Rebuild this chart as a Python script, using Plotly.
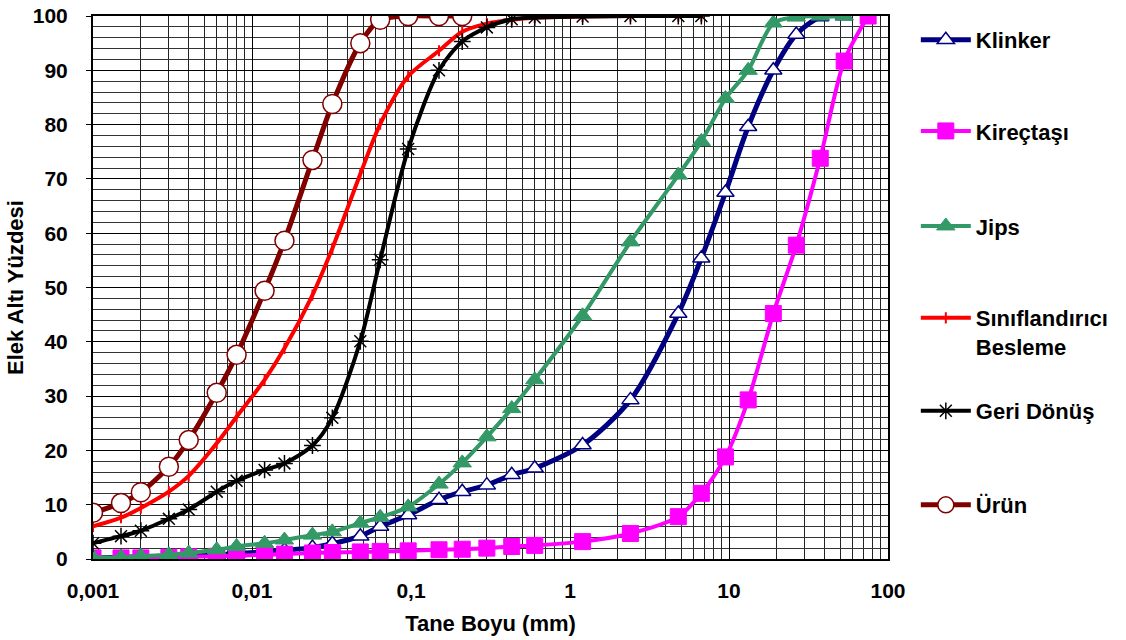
import plotly.graph_objects as go

# ---- Data (particle size in mm, cumulative % passing) ----
size_fine = [0.001, 0.0015, 0.002, 0.003, 0.004, 0.006, 0.008, 0.012, 0.016,
             0.024, 0.032, 0.048, 0.064, 0.096]
size_sieve = [0.15, 0.21, 0.3, 0.43, 0.6, 1.2, 2.4, 4.8, 6.7, 9.5, 13.2, 19,
              26.5, 37.5, 53, 75]

klinker_x = size_fine + size_sieve[:15]
klinker_y = [0.2, 0.3, 0.4, 0.5, 0.6, 0.8, 1.0, 1.3, 1.6, 2.1, 2.8, 4.2, 6.0, 8.1,
             10.9, 12.4, 13.6, 15.5, 16.7, 21.0, 29.3, 45.2, 55.4, 67.5, 79.6, 90.0,
             96.6, 99.8, 100]

kirectasi_x = size_fine + size_sieve
kirectasi_y = [0.2, 0.2, 0.2, 0.3, 0.4, 0.5, 0.6, 0.8, 0.9, 1.1, 1.2, 1.3, 1.4, 1.5,
               1.7, 1.8, 2.0, 2.3, 2.5, 3.2, 4.7, 7.8, 12.1, 18.8, 29.3, 45.2,
               57.8, 73.8, 91.7, 100]

jips_x = size_fine + size_sieve[:15]
jips_y = [0.3, 0.3, 0.5, 0.8, 1.1, 1.7, 2.3, 2.9, 3.5, 4.4, 5.0, 6.6, 7.7, 9.6,
          13.8, 17.7, 22.5, 27.7, 33.0, 44.8, 58.4, 70.7, 76.9, 84.8, 90.0, 98.7,
          99.8, 100, 100]

besleme_x = size_fine + size_sieve[:9]
besleme_y = [6.0, 7.6, 9.4, 12.4, 15.3, 21.3, 26.2, 33.0, 38.8, 48.6, 57.2, 70.9,
             80.1, 88.9, 93.6, 97.1, 98.6, 99.3, 99.7, 99.9, 100, 100, 100]

geri_x = size_fine + size_sieve[:9]
geri_y = [2.9, 4.2, 5.2, 7.4, 9.1, 12.4, 14.4, 16.4, 17.6, 20.9, 26.0, 40.1,
          55.1, 75.5, 90.0, 95.3, 97.9, 99.4, 99.7, 99.9, 100, 100, 100]

urun_x = size_fine + size_sieve[:2]
urun_y = [8.5, 10.3, 12.3, 17.0, 21.9, 30.6, 37.6, 49.4, 58.6, 73.5, 83.8, 95.0,
          99.3, 100, 100, 100]

x_ticks = [0.001, 0.01, 0.1, 1, 10, 100]
x_ticktext = ["0,001", "0,01", "0,1", "1", "10", "100"]

FONT = "Liberation Sans, Arial, sans-serif"
LEG_FONT = dict(family=FONT, size=22, color="black", weight="bold")

fig = go.Figure()

def add(name, x, y, color, symbol, size, fill, lw, mlw, legend):
    fig.add_trace(go.Scatter(
        x=x, y=y, name=name, mode="lines+markers",
        line=dict(color=color, width=lw, shape="spline", smoothing=0.8),
        marker=dict(symbol=symbol, size=size, color=fill,
                    line=dict(color=color, width=mlw)),
        legend=legend,
    ))

add("Klinker", klinker_x, klinker_y, "#000080", "triangle-up", 15, "white", 5, 1.5, "legend")
add("Kireçtaşı", kirectasi_x, kirectasi_y, "#FF00FF", "square", 16, "#FF00FF", 4, 1, "legend2")
add("Jips", jips_x, jips_y, "#339966", "triangle-up", 16, "#339966", 4, 1, "legend3")
add("Sınıflandırıcı<br>Besleme", besleme_x, besleme_y, "#FF0000", "line-ns-open", 8, "#FF0000", 4, 2, "legend4")
add("Geri Dönüş", geri_x, geri_y, "#000000", "asterisk-open", 14, "#000000", 4, 1.5, "legend5")
add("Ürün", urun_x, urun_y, "#800000", "circle", 19, "white", 5, 1.5, "legend6")

def leg(y):
    return dict(x=1.035, xanchor="left", y=y, yanchor="middle", font=LEG_FONT,
                valign="top", itemwidth=50, bgcolor="rgba(0,0,0,0)")

fig.update_layout(
    width=1126, height=640,
    margin=dict(l=93, r=238, t=16, b=81, autoexpand=False),
    paper_bgcolor="white", plot_bgcolor="white",
    font=dict(family=FONT, size=21, color="black", weight="bold"),
    legend=leg(0.956), legend2=leg(0.788), legend3=leg(0.613),
    legend4=leg(0.417), legend5=leg(0.2726), legend6=leg(0.0994),
    showlegend=True,
)

fig.update_xaxes(
    type="log", range=[-3, 2], automargin=False,
    tickvals=x_ticks, ticktext=x_ticktext, ticks="",
    showgrid=True, gridcolor="#000000", gridwidth=1,
    minor=dict(dtick="D1", showgrid=True, gridcolor="#222222", gridwidth=1, ticks=""),
    showline=True, linecolor="black", linewidth=2, mirror=True,
    ticklabelstandoff=12,
    title=dict(text="Tane Boyu (mm)", standoff=14,
               font=dict(family=FONT, size=22, color="black", weight="bold")),
    zeroline=False,
)
fig.update_yaxes(
    range=[0, 100], dtick=10, ticks="outside", ticklen=5, tickcolor="black",
    automargin=False,
    showgrid=True, gridcolor="#000000", gridwidth=1,
    minor=dict(dtick=2, showgrid=True, gridcolor="#333333", gridwidth=1),
    showline=True, linecolor="black", linewidth=2, mirror=True,
    ticklabelstandoff=14,
    title=dict(text="Elek Altı Yüzdesi", standoff=3,
               font=dict(family=FONT, size=22, color="black", weight="bold")),
    zeroline=False,
)

fig.write_html("out.html")
